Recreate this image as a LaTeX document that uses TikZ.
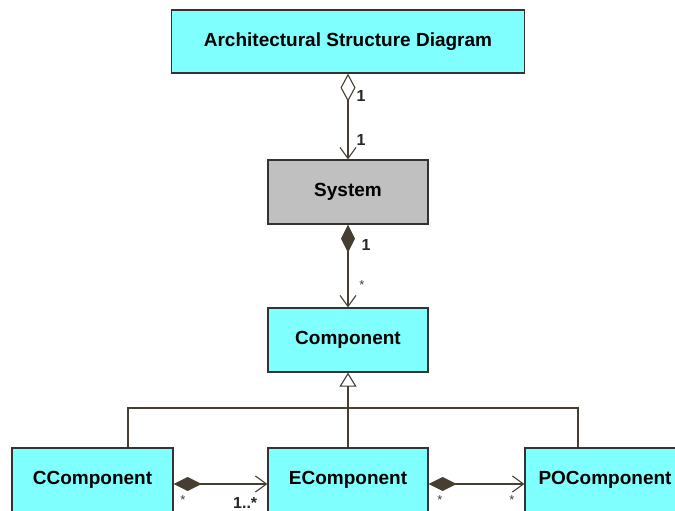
\documentclass[tikz,border=0pt]{standalone}
\usepackage{fontspec}
\setmainfont{Liberation Sans}
\usetikzlibrary{arrows.meta}
\definecolor{boxcyan}{HTML}{80FFFF}
\definecolor{boxgray}{HTML}{C0C0C0}
\definecolor{linec}{HTML}{463E30}
\tikzset{
  cls/.style={draw=black!80, line width=1.3pt, fill=boxcyan, minimum width=160pt, minimum height=64pt, inner sep=0pt,
    font=\fontsize{19}{22}\selectfont\bfseries},
  conn/.style={draw=linec, line width=1.3pt},
  mult/.style={font=\fontsize{16}{18}\selectfont\bfseries, text=black!85, inner sep=0pt},
  star/.style={font=\fontsize{13}{14}\selectfont, text=black!75, inner sep=0pt}
}
\begin{document}
\begin{tikzpicture}[x=1pt,y=-1pt]
\useasboundingbox (0,0) rectangle (675,511);
\clip (0,0) rectangle (675,511);
\fill[white] (0,0) rectangle (675,511);
\node[cls, minimum width=353pt, minimum height=63pt] (arch) at (348,41.5) {Architectural Structure Diagram};
\node[cls, fill=boxgray] (sys) at (348,192) {System};
\node[cls] (comp) at (348,340) {Component};
\node[cls, minimum width=161pt] (cc) at (92.5,480) {CComponent};
\node[cls] (ec) at (348,480) {EComponent};
\node[cls] (pc) at (605,480) {POComponent};
% aggregation
\draw[conn, {Diamond[open,length=28pt,width=15pt,line width=1.1pt]}-{Straight Barb[length=11pt,width=16pt,line width=1.1pt]}] (arch.south) -- (sys.north);
\node[mult] at (361,96) {1};
\node[mult] at (361,140) {1};
% composition
\draw[conn, {Diamond[length=28pt,width=14pt]}-{Straight Barb[length=11pt,width=16pt,line width=1.1pt]}] (sys.south) -- (comp.north);
\node[mult] at (366,245) {1};
\node[star] at (362,285) {*};
% generalization
\coordinate (hl) at (128,408);
\coordinate (hr) at (578,408);
\draw[conn, -{Triangle[open,length=14pt,width=17pt,line width=1.1pt]}] (ec.north) -- (comp.south);
\draw[conn] (cc.north -| hl) -- (hl) -- (hr) -- (pc.north -| hr);
% associations
\draw[conn, {Diamond[length=28pt,width=14pt]}-{Straight Barb[length=11pt,width=16pt,line width=1.1pt]}] ([yshift=-4pt]cc.east) -- ([yshift=-4pt]ec.west);
\node[star] at (183,500) {*};
\node[font=\fontsize{16}{18}\selectfont\bfseries, text=black!85, inner sep=0pt, anchor=west] at (233,503) {1..*};
\draw[conn, {Diamond[length=28pt,width=14pt]}-{Straight Barb[length=11pt,width=16pt,line width=1.1pt]}] ([yshift=-4pt]ec.east) -- ([yshift=-4pt]pc.west);
\node[star] at (440,500) {*};
\node[star] at (512,500) {*};
\end{tikzpicture}
\end{document}
